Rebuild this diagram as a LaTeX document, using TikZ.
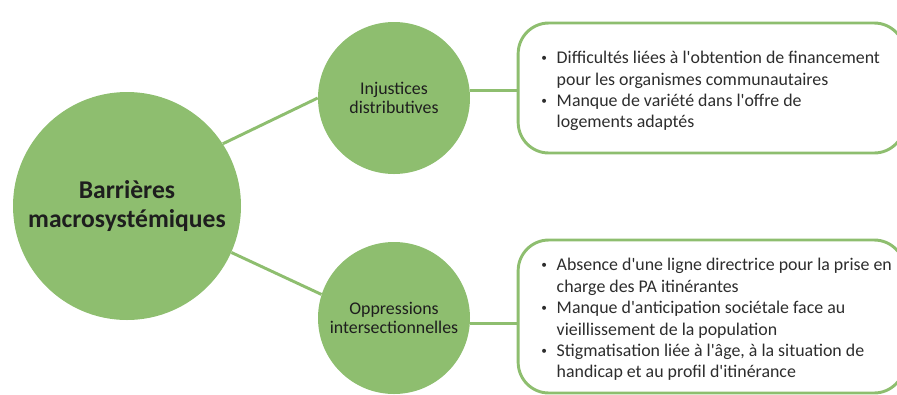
\documentclass[tikz,border=0pt]{standalone}
\usepackage{fontspec}
\setmainfont{Carlito}
\usetikzlibrary{calc}
\definecolor{leaf}{RGB}{142,190,111}
\definecolor{ink}{RGB}{30,30,30}
\definecolor{bodyink}{RGB}{45,45,45}
% straight apostrophe and a small list bullet
\newcommand{\ap}{\textquotesingle}
\newcommand{\dotmark}{\raisebox{1.6pt}{\fontsize{8.5}{8.5}\selectfont\textbullet}}
\newcommand{\bulletlist}[1]{%
  \fontsize{13.4}{16.1}\selectfont
  \begin{tabular}{@{}p{11.6pt}@{}l@{}}#1\end{tabular}}
\begin{document}
\begin{tikzpicture}[x=0.75pt,y=-0.75pt,
  hub/.style={circle,fill=leaf,draw=none,minimum size=171pt,inner sep=0pt,
    align=center,text=ink,font=\fontsize{19.2}{22}\selectfont\bfseries},
  topic/.style={circle,fill=leaf,draw=none,minimum size=114pt,inner sep=0pt,
    align=center,text=ink,font=\fontsize{13.4}{14.8}\selectfont},
  panel/.style={rectangle,rounded corners=23pt,draw=leaf,line width=2.2pt,
    fill=white,minimum width=290pt,inner sep=0pt},
  link/.style={draw=leaf,line width=2.2pt},
  listtext/.style={anchor=west,inner sep=0pt,text=bodyink,align=left}]
\useasboundingbox (0,0) rectangle (897,394);
\clip (0,0) rectangle (897,394);

% centre circle and the two branch circles
\node[hub] (root) at (127,206) {Barrières\\macrosystémiques};
\node[topic] (dist) at (394,98) {Injustices\\distributives};
\node[topic] (opp) at (394,318) {Oppressions\\intersectionnelles};

% text panels (right side runs past the page edge)
\node[panel,minimum height=97.5pt] (box1) at (711.5,88) {};
\node[panel,minimum height=114.75pt] (box2) at (711.5,316.5) {};

% connectors
\draw[link] (root.33) -- (dist.180);
\draw[link] (root.-24) -- (opp.162);
\draw[link] (dist.6) -- (dist.6 -| box1.west);
\draw[link] (opp.-4) -- (opp.-4 -| box2.west);

% bullet lists
\node[listtext] (list1) at (541,91.5) {\bulletlist{%
  \dotmark & Difficultés liées à l\ap obtention de financement\\
  & pour les organismes communautaires\\
  \dotmark & Manque de variété dans l\ap offre de\\
  & logements adaptés}};
\node[listtext] (list2) at (541,320) {\bulletlist{%
  \dotmark & Absence d\ap une ligne directrice pour la prise en\\
  & charge des PA itinérantes\\
  \dotmark & Manque d\ap anticipation sociétale face au\\
  & vieillissement de la population\\
  \dotmark & Stigmatisation liée à l\ap âge, à la situation de\\
  & handicap et au profil d\ap itinérance}};
\end{tikzpicture}
\end{document}
